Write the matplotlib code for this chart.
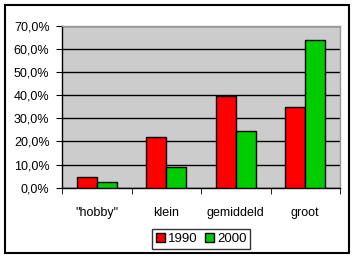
import matplotlib
matplotlib.use("Agg")
import matplotlib.pyplot as plt
import numpy as np
from matplotlib.ticker import FuncFormatter, MultipleLocator

categories = ['"hobby"', 'klein', 'gemiddeld', 'groot']
series_names = ['1990', '2000']
values_1990 = [4.5, 22.0, 39.5, 35.0]
values_2000 = [2.5, 9.0, 24.5, 64.0]
colors = ['#FF0000', '#00CC00']

plt.rcParams['font.family'] = ['Liberation Sans', 'DejaVu Sans']
W, H = 355, 258
fig = plt.figure(figsize=(W/100, H/100), dpi=100)
fig.patch.set_facecolor('white')

# outer frame
frame = plt.Rectangle((5/W, 5/H), 344/W, 248/H, transform=fig.transFigure,
                      fill=False, edgecolor='black', linewidth=1.5)
fig.patches.append(frame)

ax = fig.add_axes([62/W, (H-187.7)/H, 278/W, 162/H])
ax.set_facecolor('#CCCCCC')
x = np.arange(len(categories))
bw = 0.29
bars1 = ax.bar(x - bw/2, values_1990, bw, color=colors[0], edgecolor='black', linewidth=1, label=series_names[0], zorder=3)
bars2 = ax.bar(x + bw/2, values_2000, bw, color=colors[1], edgecolor='black', linewidth=1, label=series_names[1], zorder=3)

ax.set_xlim(-0.5, len(categories) - 0.5)
ax.set_ylim(0, 70)
ax.yaxis.set_major_locator(MultipleLocator(10))
ax.yaxis.set_major_formatter(FuncFormatter(lambda v, p: f"{v:.1f}%".replace('.', ',')))
ax.grid(axis='y', color='black', linewidth=1, zorder=1)
ax.set_axisbelow(True)

ax.set_xticks(x)
ax.set_xticklabels(categories)
ax.tick_params(axis='x', which='major', length=0, pad=14, labelsize=9)
ax.set_xticks(np.arange(-0.5, len(categories), 1), minor=True)
ax.tick_params(axis='x', which='minor', length=4, direction='out', color='black')
ax.tick_params(axis='y', length=4, direction='out', pad=5, labelsize=9, color='black')

for s in ['left', 'bottom']:
    ax.spines[s].set_color('black')
    ax.spines[s].set_linewidth(1)
for s in ['top', 'right']:
    ax.spines[s].set_color('#999999')
    ax.spines[s].set_linewidth(1)

leg = fig.legend(handles=[bars1, bars2], labels=series_names, loc='center',
                 bbox_to_anchor=(201/W, (H-239)/H), ncol=2, frameon=True,
                 fontsize=9.5, handlelength=0.7, handleheight=0.7, handletextpad=0.2,
                 columnspacing=0.6, borderpad=0.3, fancybox=False, borderaxespad=0)
leg.get_frame().set_edgecolor('black')
leg.get_frame().set_linewidth(1)

fig.savefig('out.png', dpi=100)
